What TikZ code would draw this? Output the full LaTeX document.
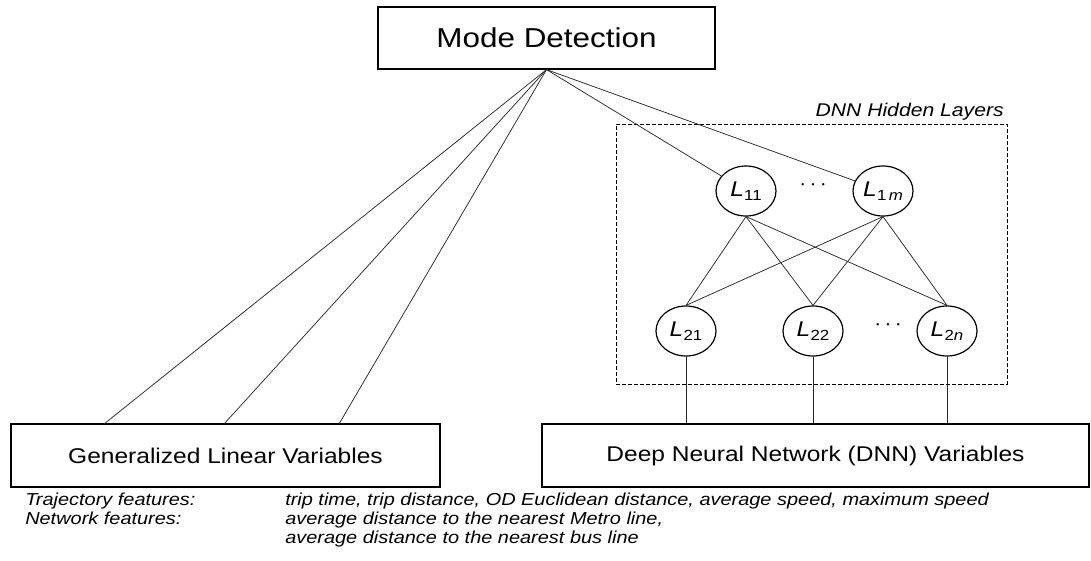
\documentclass[tikz,border=0pt]{standalone}
\usepackage{fontspec}
\setmainfont{Liberation Sans}[FakeStretch=1.15]
\usetikzlibrary{shapes.geometric}
\newcommand{\Lsub}[1]{\textit{L}\kern0.2pt\raisebox{-0.4ex}{\fontsize{11pt}{11pt}\selectfont #1}}
\begin{document}
\begin{tikzpicture}[x=0.75pt,y=-0.75pt,
  box/.style={draw, rectangle, line width=0.9pt, inner sep=0pt},
  neuron/.style={draw, ellipse, line width=0.9pt, minimum width=45pt, minimum height=37.5pt, inner sep=0pt, font=\fontsize{16pt}{18pt}\selectfont},
  conn/.style={line width=0.55pt, draw=black!85},
  hidbox/.style={draw, rectangle, dashed, dash pattern=on 3pt off 1.5pt, line width=0.7pt, inner sep=0pt},
  feat/.style={anchor=base west, inner sep=0pt, font=\fontsize{13pt}{15pt}\selectfont\itshape},
  dotsnode/.style={inner sep=0pt, font=\fontsize{17pt}{19pt}\selectfont}
]
\useasboundingbox (0,0) rectangle (1091,560);

% boxes
\node[box, minimum width=252.75pt, minimum height=46.5pt, font=\fontsize{20.5pt}{24pt}\selectfont] (md) at (546.5,38) {Mode Detection};
\node[box, minimum width=321.75pt, minimum height=47.25pt, font=\fontsize{16pt}{19pt}\selectfont] (glv) at (225.5,455.5) {Generalized Linear Variables};
\node[box, minimum width=410.25pt, minimum height=47.25pt, font=\fontsize{16pt}{19pt}\selectfont] (dnn) at (815.5,455.5) {Deep Neural Network (DNN) Variables};

% hidden layer frame
\node[hidbox, minimum width=293.25pt, minimum height=195pt] (hid) at (811.5,254) {};
\node[anchor=base east, inner sep=0pt, font=\fontsize{13.8pt}{16pt}\selectfont\itshape] (hidlab) at (1004,116) {DNN Hidden Layers};

% neurons
\node[neuron] (L11) at (746,191) {\Lsub{11}};
\node[neuron] (L1m) at (883,191) {\Lsub{1\,\textit{m}}};
\node[neuron] (L21) at (686,331) {\Lsub{21}};
\node[neuron] (L22) at (813,331) {\Lsub{22}};
\node[neuron] (L2n) at (947,331) {\Lsub{2\textit{n}}};
\node[dotsnode] (d1) at (813,185) {$\cdots$};
\node[dotsnode] (d2) at (888,325) {$\cdots$};

% free ends on the GLV box
\coordinate (g1) at (104,424);
\coordinate (g2) at (224,424);
\coordinate (g3) at (339,424);

% connectors from Mode Detection
\draw[conn] (md.south) -- (g1);
\draw[conn] (md.south) -- (g2);
\draw[conn] (md.south) -- (g3);
\draw[conn] (md.south) -- (L11);
\draw[conn] (md.south) -- (L1m);

% layer connections
\foreach \a in {L11,L1m}{
  \foreach \b in {L21,L22,L2n}{
    \draw[conn] (\a.south) -- (\b.north);
  }
}
\foreach \b in {L21,L22,L2n}{
  \draw[conn] (\b.south) -- (\b.south |- dnn.north);
}

% feature text
\node[feat] (t1) at (25,505) {Trajectory features:};
\node[feat] (t2) at (25,524) {Network features:};
\node[feat] (v1) at (285,505) {trip time, trip distance, OD Euclidean distance, average speed, maximum speed};
\node[feat] (v2) at (285,524) {average distance to the nearest Metro line,};
\node[feat] (v3) at (285,543) {average distance to the nearest bus line};
\end{tikzpicture}
\end{document}
